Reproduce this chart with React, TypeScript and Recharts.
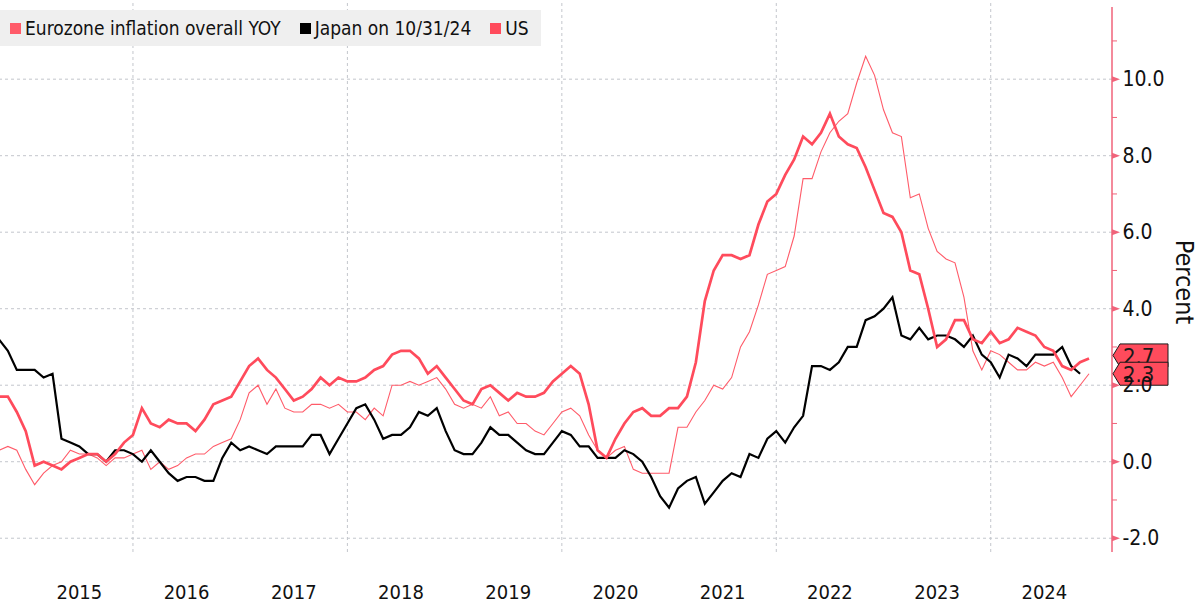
import React from 'react';
import { LineChart, Line, XAxis, YAxis, ReferenceLine, ReferenceDot, Legend } from 'recharts';

// Monthly observations (month-end), first one is September 2014
const START_YEAR = 2014;
const START_MONTH = 9;

const seriesNames = ['Eurozone inflation overall YOY', 'Japan on 10/31/24', 'US'];

// Eurozone HICP YoY, Sep 2014 .. Nov 2024
const euroHicp = [
  0.3, 0.4, 0.3, -0.2,
  -0.6, -0.3, -0.1, 0.0, 0.3, 0.2, 0.2, 0.1, -0.1, 0.1, 0.1, 0.2,
  0.3, -0.2, 0.0, -0.2, -0.1, 0.1, 0.2, 0.2, 0.4, 0.5, 0.6, 1.1,
  1.8, 2.0, 1.5, 1.9, 1.4, 1.3, 1.3, 1.5, 1.5, 1.4, 1.5, 1.3,
  1.3, 1.1, 1.4, 1.2, 2.0, 2.0, 2.1, 2.0, 2.1, 2.2, 1.9, 1.5,
  1.4, 1.5, 1.4, 1.7, 1.2, 1.3, 1.0, 1.0, 0.8, 0.7, 1.0, 1.3,
  1.4, 1.2, 0.7, 0.3, 0.1, 0.3, 0.4, -0.2, -0.3, -0.3, -0.3, -0.3,
  0.9, 0.9, 1.3, 1.6, 2.0, 1.9, 2.2, 3.0, 3.4, 4.1, 4.9, 5.0,
  5.1, 5.9, 7.4, 7.4, 8.1, 8.6, 8.9, 9.1, 9.9, 10.6, 10.1, 9.2,
  8.6, 8.5, 6.9, 7.0, 6.1, 5.5, 5.3, 5.2, 4.3, 2.9, 2.4, 2.9,
  2.8, 2.6, 2.4, 2.4, 2.6, 2.5, 2.6, 2.2, 1.7, 2.0, 2.3,
];

// Japan CPI YoY, Sep 2014 .. Oct 2024
const japanCpi = [
  3.2, 2.9, 2.4, 2.4,
  2.4, 2.2, 2.3, 0.6, 0.5, 0.4, 0.2, 0.2, 0.0, 0.3, 0.3, 0.2,
  0.0, 0.3, 0.0, -0.3, -0.5, -0.4, -0.4, -0.5, -0.5, 0.1, 0.5, 0.3,
  0.4, 0.3, 0.2, 0.4, 0.4, 0.4, 0.4, 0.7, 0.7, 0.2, 0.6, 1.0,
  1.4, 1.5, 1.1, 0.6, 0.7, 0.7, 0.9, 1.3, 1.2, 1.4, 0.8, 0.3,
  0.2, 0.2, 0.5, 0.9, 0.7, 0.7, 0.5, 0.3, 0.2, 0.2, 0.5, 0.8,
  0.7, 0.4, 0.4, 0.1, 0.1, 0.1, 0.3, 0.2, 0.0, -0.4, -0.9, -1.2,
  -0.7, -0.5, -0.4, -1.1, -0.8, -0.5, -0.3, -0.4, 0.2, 0.1, 0.6, 0.8,
  0.5, 0.9, 1.2, 2.5, 2.5, 2.4, 2.6, 3.0, 3.0, 3.7, 3.8, 4.0,
  4.3, 3.3, 3.2, 3.5, 3.2, 3.3, 3.3, 3.2, 3.0, 3.3, 2.8, 2.6,
  2.2, 2.8, 2.7, 2.5, 2.8, 2.8, 2.8, 3.0, 2.5, 2.3,
];

// US CPI YoY, Sep 2014 .. Nov 2024
const usCpi = [
  1.7, 1.7, 1.3, 0.8,
  -0.1, 0.0, -0.1, -0.2, 0.0, 0.1, 0.2, 0.2, 0.0, 0.2, 0.5, 0.7,
  1.4, 1.0, 0.9, 1.1, 1.0, 1.0, 0.8, 1.1, 1.5, 1.6, 1.7, 2.1,
  2.5, 2.7, 2.4, 2.2, 1.9, 1.6, 1.7, 1.9, 2.2, 2.0, 2.2, 2.1,
  2.1, 2.2, 2.4, 2.5, 2.8, 2.9, 2.9, 2.7, 2.3, 2.5, 2.2, 1.9,
  1.6, 1.5, 1.9, 2.0, 1.8, 1.6, 1.8, 1.7, 1.7, 1.8, 2.1, 2.3,
  2.5, 2.3, 1.5, 0.3, 0.1, 0.6, 1.0, 1.3, 1.4, 1.2, 1.2, 1.4,
  1.4, 1.7, 2.6, 4.2, 5.0, 5.4, 5.4, 5.3, 5.4, 6.2, 6.8, 7.0,
  7.5, 7.9, 8.5, 8.3, 8.6, 9.1, 8.5, 8.3, 8.2, 7.7, 7.1, 6.5,
  6.4, 6.0, 5.0, 4.9, 4.0, 3.0, 3.2, 3.7, 3.7, 3.2, 3.1, 3.4,
  3.1, 3.2, 3.5, 3.4, 3.3, 3.0, 2.9, 2.5, 2.4, 2.6, 2.7,
];

const yearLabels = ['2015', '2016', '2017', '2018', '2019', '2020', '2021', '2022', '2023', '2024'];
const gridYears = [2016, 2018, 2020, 2022, 2024];
const gridValues = [-2, 0, 2, 4, 6, 8, 10];
const axisTicks = [-2, -1, 0, 1, 2, 3, 4, 5, 6, 7, 8, 9, 10, 11];

const X_DOMAIN: [number, number] = [2014.76, 2025.131];
const Y_DOMAIN: [number, number] = [-2.36, 12.07];
const AXIS_TOP = 11.89;

const RED = '#ff4b5c';
const RED_THIN = '#ff5b69';
const AXIS_RED = '#f0637a';
const GRID = '#c3c6cc';
const FONT = "'DejaVu Sans Condensed', 'DejaVu Sans', sans-serif";

const data = usCpi.map((v, i) => ({
  t: START_YEAR + (START_MONTH + i) / 12,
  euro: euroHicp[i],
  japan: i < japanCpi.length ? japanCpi[i] : null,
  us: v,
}));

const yearTicks = yearLabels.map((y) => Number(y) + 0.5);

const XTick = (props: any) => {
  const { x, y, payload } = props;
  return (
    <text x={x} y={y + 39.5} textAnchor="middle" dominantBaseline="central"
      fontFamily={FONT} fontStretch="condensed" fontSize={20} fill="#111">
      {String(Math.floor(payload.value))}
    </text>
  );
};

const YTick = (props: any) => {
  const { x, y, payload } = props;
  const v = payload.value;
  if (Math.abs(v % 2) === 1) {
    return <line x1={x} x2={x + 5} y1={y} y2={y} stroke={AXIS_RED} strokeWidth={1} />;
  }
  return (
    <g>
      <polygon points={`${x},${y - 3} ${x + 8},${y} ${x},${y + 3}`} fill={AXIS_RED} />
      <text x={x + 10.5} y={y} textAnchor="start" dominantBaseline="central"
        fontFamily={FONT} fontStretch="condensed" fontSize={21} fill="#111">
        {v.toFixed(1)}
      </text>
    </g>
  );
};

const EndTag = (props: any) => {
  const { cx, cy, label, dy = 0 } = props;
  const c = cy + dy;
  const h = 11.5;
  return (
    <g>
      <polygon
        points={`${cx + 1},${c} ${cx + 8},${c - h} ${cx + 56},${c - h} ${cx + 56},${c + h} ${cx + 8},${c + h}`}
        fill={RED} stroke="#1a1a1a" strokeWidth={1} />
      <text x={cx + 11} y={c + 1} textAnchor="start" dominantBaseline="central"
        fontFamily={FONT} fontStretch="condensed" fontSize={22} fill="#1a1a1a">
        {label}
      </text>
    </g>
  );
};

const LegendBox = (props: any) => {
  const { payload } = props;
  return (
    <div style={{
      display: 'flex', alignItems: 'center', background: '#efefef', height: 36,
      padding: '0 12px 0 10px', fontFamily: FONT, fontStretch: 'condensed', fontSize: 19, color: '#111',
      whiteSpace: 'nowrap',
    }}>
      {(payload || []).map((p: any, i: number) => (
        <div key={i} style={{ display: 'flex', alignItems: 'center', marginRight: i < 2 ? 19 : 0 }}>
          <span style={{ width: 11, height: 11, background: p.color, display: 'inline-block', marginRight: 4 }} />
          <span>{p.value}</span>
        </div>
      ))}
    </div>
  );
};

const PercentTitle = (props: any) => {
  const vb = props.viewBox || { x: 1112, y: 0 };
  const x = vb.x + 72;
  const y = vb.y + 282;
  return (
    <text x={x} y={y} transform={`rotate(90, ${x}, ${y})`} textAnchor="middle" dominantBaseline="central"
      fontFamily={FONT} fontStretch="condensed" fontSize={25} fill="#111">
      Percent
    </text>
  );
};

export default function App() {
  const last = data.length - 1;
  return (
    <div style={{ position: 'absolute', left: 0, top: 0, width: 1197, height: 605, background: '#fff' }}>
      <LineChart width={1197} height={605} data={data} margin={{ top: 0, right: 0, bottom: 0, left: 0 }}>
        <XAxis dataKey="t" type="number" domain={X_DOMAIN} ticks={yearTicks} allowDataOverflow
          axisLine={false} tickLine={false} tickSize={0} tickMargin={0} height={53} tick={<XTick />} interval={0} />
        <YAxis orientation="right" type="number" domain={Y_DOMAIN} ticks={axisTicks} allowDataOverflow
          axisLine={false} tickLine={false} tickSize={0} tickMargin={0} width={85} tick={<YTick />} interval={0}
          label={{ value: 'Percent', content: (p: any) => <PercentTitle {...p} /> }} />
        {gridYears.map((yr) => (
          <ReferenceLine key={'vx' + yr} x={yr} stroke={GRID} strokeDasharray="3 3" strokeWidth={1} />
        ))}
        {gridValues.map((v) => (
          <ReferenceLine key={'hy' + v} y={v} stroke={GRID} strokeDasharray="3 3" strokeWidth={1} />
        ))}
        <ReferenceLine segment={[{ x: X_DOMAIN[1], y: Y_DOMAIN[0] }, { x: X_DOMAIN[1], y: AXIS_TOP }]}
          stroke={AXIS_RED} strokeWidth={1.5} ifOverflow="visible" />
        <Line type="linear" dataKey="euro" name={seriesNames[0]} stroke={RED_THIN} strokeWidth={1.1}
          dot={false} isAnimationActive={false} />
        <Line type="linear" dataKey="japan" name={seriesNames[1]} stroke="#000" strokeWidth={2.2}
          dot={false} isAnimationActive={false} />
        <Line type="linear" dataKey="us" name={seriesNames[2]} stroke={RED} strokeWidth={2.7}
          dot={false} isAnimationActive={false} />
        <ReferenceDot x={X_DOMAIN[1]} y={usCpi[last]} ifOverflow="visible"
          shape={(p: any) => <EndTag {...p} label={usCpi[last].toFixed(1)} dy={-3} />} />
        <ReferenceDot x={X_DOMAIN[1]} y={euroHicp[last]} ifOverflow="visible"
          shape={(p: any) => <EndTag {...p} label={euroHicp[last].toFixed(1)} dy={0} />} />
        <Legend align="center" verticalAlign="middle" layout="horizontal"
          wrapperStyle={{ left: 0, top: 10, width: 'auto' }} content={<LegendBox />} />
      </LineChart>
    </div>
  );
}
